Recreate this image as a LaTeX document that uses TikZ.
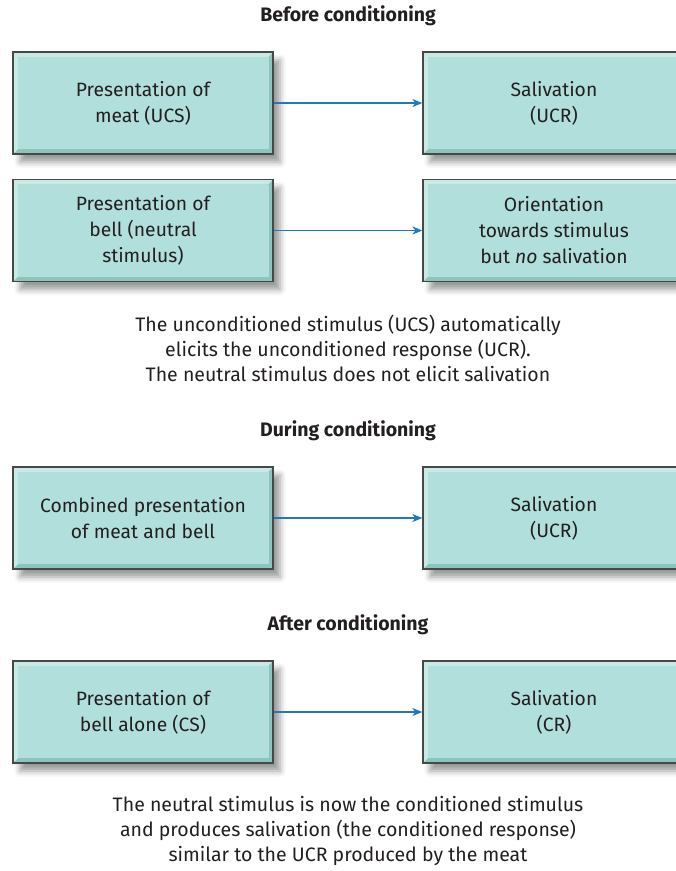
\documentclass[tikz,border=0pt]{standalone}
\usepackage{fontspec}
\setmainfont{Fira Sans}
\usetikzlibrary{arrows.meta,shadows.blur}

\definecolor{boxfill}{RGB}{177,223,219}
\definecolor{bvlight}{RGB}{201,233,229}
\definecolor{bvdark}{RGB}{140,196,190}
\definecolor{boxline}{RGB}{72,72,72}
\definecolor{arrowblue}{RGB}{32,120,190}
\definecolor{txt}{RGB}{35,31,32}

\tikzset{
  bevelbox/.style={
    rectangle, draw=boxline, line width=1.3pt,
    minimum height=102pt, inner sep=0pt,
    align=center, text=txt,
    font=\fontsize{19.3}{26}\selectfont,
    blur shadow={shadow xshift=7pt, shadow yshift=-8pt,
                 shadow blur radius=6pt, shadow opacity=40},
    path picture={
      \fill[bvdark] (path picture bounding box.south west)
        rectangle (path picture bounding box.north east);
      \fill[bvlight] (path picture bounding box.south west)
        -- (path picture bounding box.north west)
        -- (path picture bounding box.north east)
        -- ([shift={(-5pt,-5pt)}]path picture bounding box.north east)
        -- ([shift={(5pt,-5pt)}]path picture bounding box.north west)
        -- ([shift={(5pt,5pt)}]path picture bounding box.south west) -- cycle;
      \fill[boxfill] ([shift={(5pt,5pt)}]path picture bounding box.south west)
        rectangle ([shift={(-4pt,-5pt)}]path picture bounding box.north east);
    }
  },
  leftbox/.style={bevelbox, minimum width=260pt},
  rightbox/.style={bevelbox, minimum width=262pt},
  heading/.style={font=\bfseries\fontsize{19.5}{22}\selectfont, text=txt},
  caption/.style={align=center, text=txt, font=\fontsize{19.5}{25}\selectfont},
  flow/.style={draw=arrowblue, line width=1.3pt,
    -{Stealth[length=10pt,width=8pt,inset=3pt]}}
}

\begin{document}
\begin{tikzpicture}[x=1pt,y=-1pt]
  \useasboundingbox (0,0) rectangle (676,871);
  \clip (0,0) rectangle (676,871);

  % Before conditioning
  \node[heading] (h1) at (348,16) {Before conditioning};
  \node[leftbox]  (a1) at (143,103) {Presentation of\\meat (UCS)};
  \node[rightbox] (b1) at (554,103) {Salivation\\(UCR)};
  \node[leftbox]  (a2) at (143,230.5) {Presentation of\\bell (neutral\\stimulus)};
  \node[rightbox] (b2) at (554,230.5) {Orientation\\towards stimulus\\but \textit{no} salivation};
  \draw[flow] (a1.east) -- (b1.west);
  \draw[flow] (a2.east) -- (b2.west);
  \node[caption] (c1) at (348,348) {The unconditioned stimulus (UCS) automatically\\elicits the unconditioned response (UCR).\\The neutral stimulus does not elicit salivation};

  % During conditioning
  \node[heading] (h2) at (348,431) {During conditioning};
  \node[leftbox]  (a3) at (143,518) {Combined presentation\\of meat and bell};
  \node[rightbox] (b3) at (554,518) {Salivation\\(UCR)};
  \draw[flow] (a3.east) -- (b3.west);

  % After conditioning
  \node[heading] (h3) at (348,625) {After conditioning};
  \node[leftbox]  (a4) at (143,712) {Presentation of\\bell alone (CS)};
  \node[rightbox] (b4) at (554,712) {Salivation\\(CR)};
  \draw[flow] (a4.east) -- (b4.west);
  \node[caption] (c2) at (348,831) {The neutral stimulus is now the conditioned stimulus\\and produces salivation (the conditioned response)\\similar to the UCR produced by the meat};
\end{tikzpicture}
\end{document}
